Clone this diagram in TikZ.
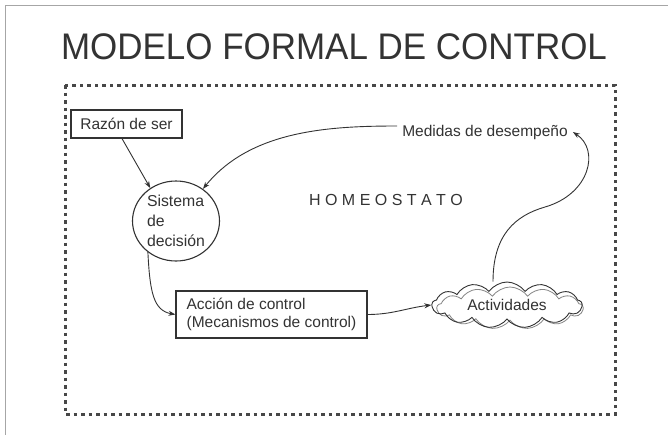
\documentclass[tikz,border=0pt]{standalone}
\usepackage{fontspec}
\setmainfont{Liberation Sans}
\newfontfamily\titlefont[FakeStretch=0.945]{Liberation Sans}
\usetikzlibrary{arrows.meta,shapes.symbols,shapes.geometric}
\definecolor{ink}{HTML}{333333}
\begin{document}
\begin{tikzpicture}[x=1pt,y=-1pt,
  every node/.style={text=ink},
  txt/.style={font=\fontsize{15.5}{19}\selectfont},
  boxnode/.style={draw=ink, line width=1.1pt, inner sep=0pt, txt},
  conn/.style={draw=ink, line width=0.9pt, -{Stealth[length=7pt,width=5pt]}},
  dotframe/.style={draw=ink!90, line width=3pt, dash pattern=on 3.5pt off 4pt}]
\useasboundingbox (0,0) rectangle (668,434);
\fill[white] (0,0) rectangle (668,434);
\draw[gray!70, line width=0.8pt] (5,440) -- (5,5) -- (672,5);
\node[font=\titlefont\fontsize{37}{40}\selectfont, inner sep=0pt] (title) at (334,46.5) {MODELO FORMAL DE CONTROL};
\draw[dotframe] (65,85) rectangle (615,414);
\node[boxnode, minimum width=111pt, minimum height=28pt] (razon) at (126.5,124) {Raz\'on de ser};
\node[draw=ink, line width=1.1pt, ellipse, inner sep=0pt, minimum width=87pt, minimum height=80pt, align=left,
      font=\fontsize{15.8}{20}\selectfont] (sd) at (176,221) {Sistema\\de\\decisi\'on};
\node[boxnode, minimum width=191pt, minimum height=47pt, align=left,
      font=\fontsize{15.5}{18}\selectfont] (acc) at (271.5,314.5) {Acci\'on de control\\(Mecanismos de control)};
\node[txt, inner xsep=5pt, inner ysep=2pt] (med) at (485,132) {Medidas de desempe\~no};
\node[txt, font=\fontsize{16}{19}\selectfont, inner sep=0pt] (homeo) at (386,200) {H O M E O S T A T O};
\node[cloud, draw=ink!60, line width=0.8pt, cloud puffs=13, cloud puff arc=110, cloud ignores aspect,
      minimum width=146pt, minimum height=42pt] (cldb) at (510,308) {};
\node[cloud, draw=ink, line width=0.9pt, cloud puffs=13, cloud puff arc=110, cloud ignores aspect,
      minimum width=150pt, minimum height=46pt, inner sep=0pt, txt] (cld) at (507,305) {Actividades};
% connectors
\draw[conn] ([xshift=-4.5pt]razon.south) -- (sd.128);
\draw[conn] ([yshift=6pt]med.west) .. controls +(-70,0) and +(47,-58) .. (sd.50);
\draw[conn] (sd.228) .. controls +(2,40) and +(-22,-4) .. (acc.west);
\draw[conn] (acc.east) .. controls +(25,0) and +(-25,3) .. (cld.west);
\draw[conn] ([xshift=-14pt]cld.north) .. controls (493,235) and (515,215.7) .. (545,207)
   .. controls (590,194) and (600,150) .. (med.east);
\end{tikzpicture}
\end{document}
